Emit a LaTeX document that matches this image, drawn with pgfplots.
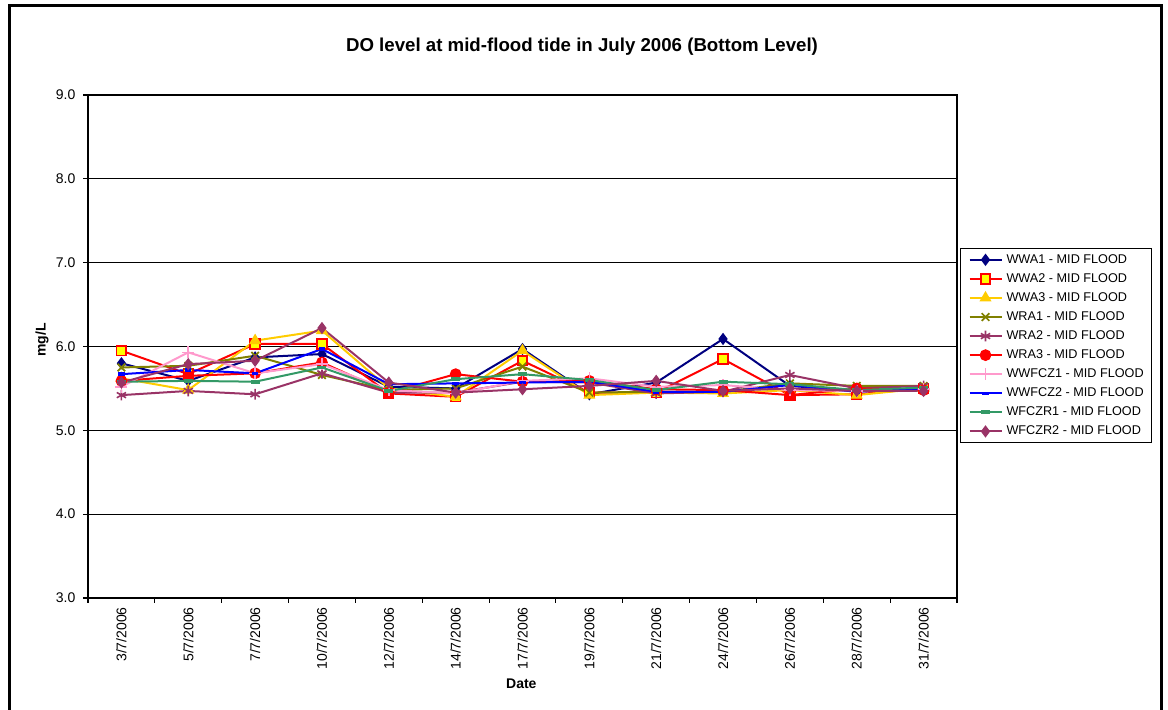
\documentclass[border=0pt]{standalone}
\usepackage{fontspec}
\setmainfont{Liberation Sans}
\usepackage{pgfplots}
\usepackage{pgfplotstable}
\pgfplotsset{compat=1.18}

\definecolor{cNavy}{RGB}{0,0,128}
\definecolor{cRed}{RGB}{255,0,0}
\definecolor{cYellow}{RGB}{255,255,0}
\definecolor{cGold}{RGB}{255,204,0}
\definecolor{cOlive}{RGB}{128,128,0}
\definecolor{cPlum}{RGB}{153,51,102}
\definecolor{cPink}{RGB}{255,153,204}
\definecolor{cBlue}{RGB}{0,0,255}
\definecolor{cSea}{RGB}{51,153,102}

% DO readings (mg/L), bottom level, mid-flood tide, July 2006
\pgfplotstableread{
x  WWAa WWAb WWAc WRAa WRAb WRAc WWFa WWFb WFCa WFCb
0  5.80 5.95 5.62 5.75 5.42 5.59 5.52 5.67 5.58 5.57
1  5.59 5.67 5.48 5.77 5.47 5.65 5.93 5.72 5.59 5.79
2  5.87 6.03 6.07 5.89 5.43 5.68 5.68 5.68 5.58 5.83
3  5.91 6.03 6.19 5.66 5.68 5.81 5.79 5.97 5.75 6.22
4  5.52 5.44 5.50 5.48 5.45 5.45 5.48 5.55 5.47 5.57
5  5.50 5.40 5.40 5.50 5.45 5.67 5.44 5.56 5.61 5.45
6  5.97 5.83 5.95 5.76 5.58 5.58 5.59 5.57 5.67 5.49
7  5.43 5.45 5.42 5.45 5.57 5.59 5.62 5.58 5.60 5.53
8  5.57 5.45 5.45 5.46 5.44 5.49 5.52 5.46 5.48 5.59
9  6.09 5.85 5.44 5.46 5.46 5.48 5.54 5.46 5.58 5.47
10 5.53 5.42 5.48 5.56 5.66 5.42 5.48 5.54 5.55 5.50
11 5.47 5.43 5.42 5.53 5.50 5.50 5.47 5.46 5.48 5.47
12 5.48 5.50 5.50 5.53 5.53 5.48 5.49 5.50 5.51 5.47
}\dotable

\begin{document}
\begin{tikzpicture}
\useasboundingbox (0pt,0pt) rectangle (876pt,532.5pt);
% outer frame of the figure
\draw[line width=2.25pt] (6.75pt,-5pt) -- (6.75pt,528pt) -- (870.75pt,528pt) -- (870.75pt,-5pt);

\begin{axis}[
  at={(66pt,84pt)}, anchor=south west,
  scale only axis, width=651.75pt, height=377.25pt,
  xmin=-0.5, xmax=12.5, ymin=3, ymax=9,
  axis line style={black, line width=0.8pt},
  xtick={0,...,12},
  xticklabels={3/7/2006,5/7/2006,7/7/2006,10/7/2006,12/7/2006,14/7/2006,17/7/2006,19/7/2006,21/7/2006,24/7/2006,26/7/2006,28/7/2006,31/7/2006},
  minor xtick={-0.5,0.5,...,12.5},
  ytick={3,4,5,6,7,8,9},
  yticklabels={3.0,4.0,5.0,6.0,7.0,8.0,9.0},
  xtick pos=bottom, ytick pos=left,
  tick align=outside,
  major tick length=3.75pt, minor tick length=3.75pt,
  major x tick style={draw=none},
  minor x tick style={black, line width=0.8pt},
  major y tick style={black, line width=0.8pt},
  tick label style={font=\fontsize{10.5}{12}\selectfont},
  xticklabel style={yshift=-3pt, rotate=90, anchor=east, inner sep=0pt},
  yticklabel style={anchor=east, inner sep=0pt, xshift=-5.5pt},
  ymajorgrids, grid style={black, line width=0.7pt},
  every axis plot/.append style={line width=1.5pt},
  legend cell align=left,
  legend image code/.code={\draw[mark repeat=2,mark phase=2] plot coordinates {(0pt,0pt) (12pt,0pt) (24pt,0pt)};},
  legend style={at={(1.0035,0.6958)}, anchor=north west,
    draw=black, line width=0.7pt, fill=white,
    font=\fontsize{9.5}{11}\selectfont,
    inner xsep=6pt, inner ysep=4pt,
    row sep=5.3pt,
    nodes={inner sep=0pt, text height=7pt, text depth=2pt},
    /tikz/every odd column/.append style={column sep=3pt}},
]
\addplot[cNavy, mark=diamond*, mark size=4pt, mark options={fill=cNavy, line width=0.8pt}] table[x=x,y=WWAa]{\dotable};
\addlegendentry{WWA1 - MID FLOOD}
\addplot[cRed, mark=square*, mark size=3.6pt, mark options={fill=cYellow, draw=cRed, line width=1.3pt}] table[x=x,y=WWAb]{\dotable};
\addlegendentry{WWA2 - MID FLOOD}
\addplot[cGold, mark=triangle*, mark size=4.5pt, mark options={fill=cGold, line width=0.8pt}] table[x=x,y=WWAc]{\dotable};
\addlegendentry{WWA3 - MID FLOOD}
\addplot[cOlive, mark=x, mark size=4pt, mark options={line width=1.3pt}] table[x=x,y=WRAa]{\dotable};
\addlegendentry{WRA1 - MID FLOOD}
\addplot[cPlum, mark=asterisk, mark size=4pt, mark options={line width=1.2pt}] table[x=x,y=WRAb]{\dotable};
\addlegendentry{WRA2 - MID FLOOD}
\addplot[cRed, mark=*, mark size=4pt, mark options={fill=cRed, line width=0.8pt}] table[x=x,y=WRAc]{\dotable};
\addlegendentry{WRA3 - MID FLOOD}
\addplot[cPink, mark=+, mark size=4.5pt, mark options={line width=1.2pt}] table[x=x,y=WWFa]{\dotable};
\addlegendentry{WWFCZ1 - MID FLOOD}
\addplot[cBlue, mark=-, mark size=2.4pt, mark options={line width=2.6pt}] table[x=x,y=WWFb]{\dotable};
\addlegendentry{WWFCZ2 - MID FLOOD}
\addplot[cSea, mark=-, mark size=3.4pt, mark options={line width=2.8pt}] table[x=x,y=WFCa]{\dotable};
\addlegendentry{WFCZR1 - MID FLOOD}
\addplot[cPlum, mark=diamond*, mark size=4pt, mark options={fill=cPlum, line width=0.8pt}] table[x=x,y=WFCb]{\dotable};
\addlegendentry{WFCZR2 - MID FLOOD}
\end{axis}

% chart title and axis titles
\node[font=\bfseries\fontsize{14}{16}\selectfont] at (436.5pt,497.25pt) {DO level at mid-flood tide in July 2006 (Bottom Level)};
\node[font=\bfseries\fontsize{10.5}{12}\selectfont, rotate=90] at (31.5pt,277.5pt) {mg/L};
\node[font=\bfseries\fontsize{10.5}{12}\selectfont] at (391pt,19.5pt) {Date};
\end{tikzpicture}
\end{document}
